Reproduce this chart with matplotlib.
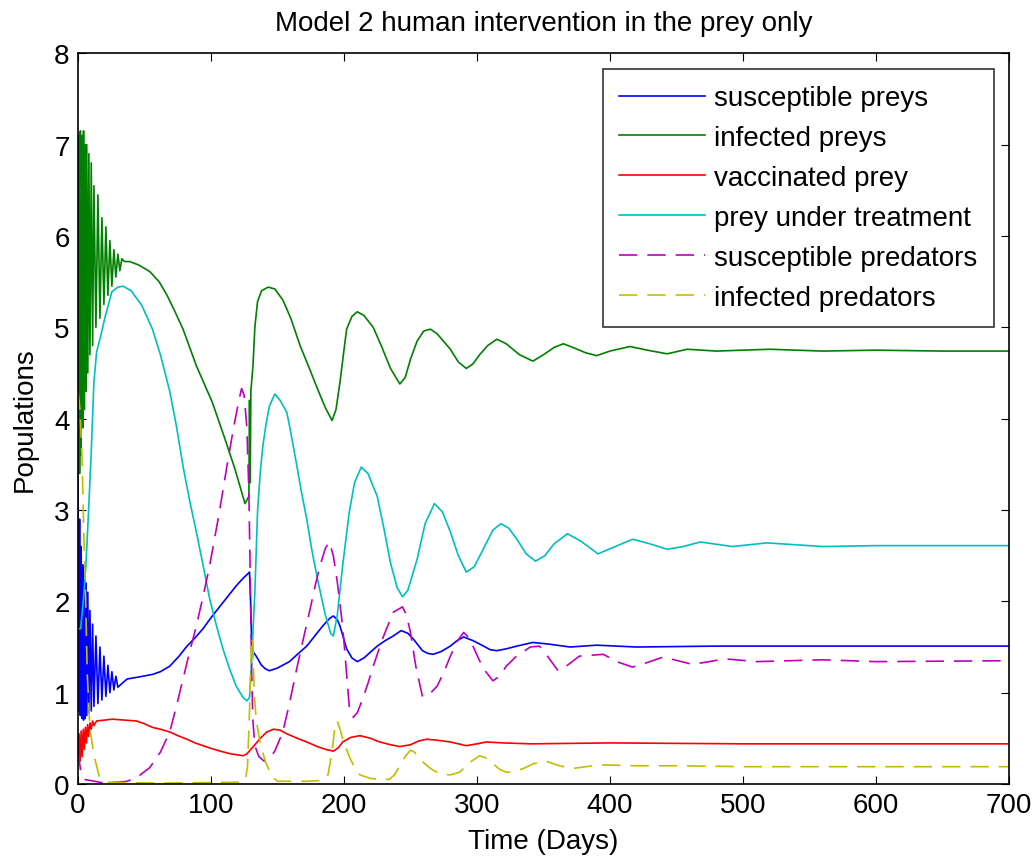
import numpy as np
import matplotlib
matplotlib.use("Agg")
import matplotlib.pyplot as plt

# values (time in days, population)
t_sus_prey = [0, 0.6, 1.2, 1.8, 2.4, 3.0, 3.6, 4.2, 4.8, 5.4, 6.0, 6.6, 7.4, 8.2, 9, 10, 11, 12, 13.5, 15,
              16.5, 18, 19.5, 21, 22.5, 24, 25.5, 27, 28.5, 30, 33, 37, 45, 56, 62, 69,
              76, 82, 88, 94, 100, 107, 113, 119, 124, 129, 129.8, 130.5, 131.5, 134, 138, 141, 144, 150,
              159, 165, 172, 178, 184, 189, 192, 195, 197, 202, 206, 210, 215, 225, 231, 237, 243, 248,
              252, 259, 263, 267, 273, 280, 285, 290, 297, 305, 310, 315, 322, 330, 342, 355, 370, 390,
              420, 480, 560, 640, 700]
sus_prey = [3.3, 0.8, 2.9, 0.75, 2.6, 0.72, 2.4, 0.7, 2.3, 0.72, 2.2, 0.75, 2.1, 0.78, 1.9, 0.8, 1.75,
            0.85, 1.62, 0.88, 1.5, 0.92, 1.4, 0.96, 1.3, 1.0, 1.23, 1.03, 1.18, 1.06, 1.1, 1.15,
            1.17, 1.2, 1.23, 1.29, 1.4, 1.51, 1.6, 1.7, 1.82, 1.95, 2.06, 2.17, 2.25, 2.32, 2.0, 1.6,
            1.45, 1.4, 1.3, 1.26, 1.24, 1.27, 1.34, 1.42, 1.51, 1.62, 1.73, 1.81, 1.84, 1.8, 1.73, 1.48,
            1.38, 1.34, 1.38, 1.51, 1.57, 1.62, 1.68, 1.65, 1.59, 1.46, 1.43, 1.42, 1.45, 1.51, 1.57,
            1.61, 1.57, 1.51, 1.47, 1.46, 1.48, 1.51, 1.55, 1.53, 1.5, 1.52, 1.5, 1.51, 1.51, 1.51, 1.51]

t_inf_prey = [0, 0.6, 1.2, 1.8, 2.4, 3.0, 3.6, 4.2, 4.8, 5.4, 6.0, 6.6, 7.4, 8.2, 9, 10, 11, 12, 13.5,
              15, 16.5, 18, 19.5, 21, 22.5, 24, 25.5, 27, 28.5, 30, 31.5, 33, 35, 39, 46, 54, 61,
              67, 73, 79, 89, 101, 110, 118, 122, 125.6, 128.5, 129, 129.5, 130, 131.6, 133, 135, 138,
              143, 148, 154, 160, 167, 174, 180, 186, 191, 194, 197, 200, 202, 206, 210, 215, 222, 228,
              235, 242, 246, 250, 255, 260, 265, 270, 280, 286, 292, 297, 302, 308, 315, 322, 332, 342,
              350, 358, 365, 372, 382, 390, 400, 415, 428, 443, 458, 480, 520, 560, 600, 650, 700]
inf_prey = [3.3, 7.1, 3.4, 7.15, 3.6, 7.1, 3.9, 7.15, 4.1, 7.0, 4.3, 7.0, 4.5, 6.9, 4.7, 6.8, 4.8, 6.55,
            5.0, 6.45, 5.1, 6.2, 5.25, 6.1, 5.35, 5.95, 5.45, 5.85, 5.55, 5.8, 5.62, 5.75, 5.72,
            5.72, 5.68, 5.61, 5.5, 5.35, 5.17, 4.98, 4.58, 4.18, 3.8, 3.45, 3.25, 3.07, 3.15, 4.2, 3.3,
            4.3, 4.58, 5.0, 5.28, 5.4, 5.44, 5.42, 5.3, 5.1, 4.8, 4.55, 4.33, 4.12, 3.98, 4.1, 4.4, 4.75,
            4.98, 5.12, 5.17, 5.13, 5.0, 4.8, 4.55, 4.38, 4.45, 4.65, 4.85, 4.96, 4.98, 4.93, 4.76, 4.62,
            4.55, 4.6, 4.7, 4.8, 4.87, 4.82, 4.7, 4.63, 4.7, 4.78, 4.82, 4.78, 4.72, 4.69, 4.74, 4.79,
            4.75, 4.71, 4.76, 4.74, 4.76, 4.74, 4.75, 4.74, 4.74]

t_vac_prey = [0, 0.8, 1.6, 2.4, 3.2, 4, 4.8, 5.6, 6.4, 7.2, 8, 9, 10, 11, 12, 14, 20, 26, 35, 44, 50, 56,
              62, 69, 75, 82, 88, 94,
              100, 107, 115, 124, 127, 130, 133, 137, 142, 147, 152, 157, 165, 172, 180, 186, 192, 196,
              199, 205, 212, 220, 227, 235, 242, 250, 256, 262, 270, 280, 292, 300, 307, 320, 340, 400,
              500, 600, 700]
vac_prey = [0.3, 0.55, 0.25, 0.58, 0.3, 0.6, 0.38, 0.62, 0.45, 0.65, 0.52, 0.67, 0.6, 0.69, 0.64, 0.69,
            0.7, 0.71, 0.7, 0.69, 0.66, 0.62,
            0.6, 0.57, 0.53, 0.49, 0.45, 0.42, 0.39, 0.36, 0.33, 0.31, 0.33, 0.38, 0.43, 0.5, 0.57, 0.6,
            0.59, 0.55, 0.5, 0.46, 0.41, 0.38, 0.36, 0.4, 0.46, 0.51, 0.53, 0.5, 0.46, 0.43, 0.41, 0.43,
            0.47, 0.49, 0.48, 0.46, 0.42, 0.44, 0.46, 0.45, 0.44, 0.45, 0.44, 0.44, 0.44]

t_treat_prey = [0, 2, 4, 6, 8, 10, 12, 14, 17, 20, 25.5, 30, 34, 40, 48, 56, 62, 69, 74, 79, 84, 89, 94,
                99, 104, 109, 114, 119, 124, 127, 129, 130.5, 132, 133, 135, 137, 139, 141.5, 144, 148,
                152, 157, 160, 164, 168, 172, 176, 180, 186, 190, 192, 195, 199, 204, 208, 213, 218, 225,
                230, 235, 240, 244, 248, 255, 261, 268, 274, 280, 286, 292, 298, 305, 312, 318, 324, 330,
                337, 344, 351, 358, 368, 378, 391, 404, 417, 430, 443, 455, 468, 492, 518, 560, 600, 700]
treat_prey = [1.7, 1.7, 2.0, 2.4, 3.0, 3.64, 4.4, 4.73, 4.9, 5.09, 5.39, 5.44, 5.45, 5.4, 5.24, 4.98,
              4.7, 4.3, 3.92, 3.48, 3.1, 2.76, 2.4, 2.03, 1.74, 1.48, 1.26, 1.07, 0.95, 0.91, 0.95, 1.3,
              1.8, 2.1, 2.98, 3.4, 3.7, 3.95, 4.14, 4.27, 4.2, 4.07, 3.85, 3.53, 3.2, 2.9, 2.55, 2.25,
              1.85, 1.65, 1.62, 1.85, 2.39, 2.98, 3.3, 3.47, 3.4, 3.15, 2.8, 2.42, 2.15, 2.05, 2.12, 2.46,
              2.85, 3.07, 2.98, 2.76, 2.5, 2.32, 2.38, 2.58, 2.78, 2.85, 2.8, 2.68, 2.52, 2.44, 2.5, 2.63,
              2.74, 2.66, 2.52, 2.6, 2.68, 2.63, 2.57, 2.6, 2.65, 2.6, 2.64, 2.6, 2.61, 2.61]

t_sus_pred = [0, 2, 5, 20, 37, 45, 54, 62, 69, 74, 79, 84, 89, 94, 99, 106, 112, 117, 121, 123, 125, 127,
              128.5, 129.5, 130.5, 131.5, 133, 136, 140, 144, 148, 154, 159, 164, 169, 174, 178, 182, 186,
              189, 192, 195, 198, 200, 202, 204, 207, 210, 214, 218, 222, 229, 237, 244, 247, 250, 254,
              259, 264, 270, 275, 280, 285, 290, 294, 297, 301, 305, 312, 317, 322, 329, 335, 340, 347,
              352, 361, 368, 377, 395, 405, 417, 428, 440, 462, 487, 510, 560, 600, 700]
sus_pred = [0.35, 0.15, 0.05, 0.01, 0.03, 0.08, 0.18, 0.35, 0.57, 0.85, 1.15, 1.45, 1.73, 2.05, 2.39,
            2.95, 3.48, 3.9, 4.2, 4.33, 4.25, 3.9, 3.2, 2.3, 1.3, 0.7, 0.42, 0.3, 0.25, 0.28, 0.36, 0.57,
            0.88, 1.23, 1.56, 1.88, 2.15, 2.39, 2.58, 2.65, 2.5, 2.21, 1.85, 1.56, 1.2, 0.85, 0.73, 0.78,
            0.93, 1.1, 1.29, 1.59, 1.88, 1.94, 1.85, 1.66, 1.29, 0.96, 0.98, 1.07, 1.22, 1.4, 1.56, 1.66,
            1.6, 1.51, 1.38, 1.26, 1.13, 1.18, 1.29, 1.39, 1.45, 1.5, 1.51, 1.42, 1.24, 1.3, 1.4, 1.42,
            1.34, 1.28, 1.33, 1.39, 1.31, 1.37, 1.34, 1.36, 1.34, 1.35]

t_inf_pred = [0, 1.5, 3, 4.5, 5.5, 7, 9, 12, 16, 22, 60, 124, 126, 127.5, 129, 130.5, 131.5, 132.5, 134,
              137, 141, 146, 150, 172, 185, 188, 191, 193, 195, 197, 200, 204, 208, 212, 220, 234, 238,
              242, 246, 250, 253, 257, 265, 272, 280, 287, 295, 302, 306, 310, 317, 322, 327, 335, 342,
              352, 362, 372, 382, 392, 420, 450, 500, 600, 700]
inf_pred = [4.3, 4.1, 3.6, 2.7, 2.2, 1.2, 0.6, 0.32, 0.08, 0.02, 0.01, 0.02, 0.05, 0.2, 0.8, 1.6, 1.55,
            1.0, 0.7, 0.45, 0.24, 0.08, 0.03, 0.03, 0.04, 0.1, 0.35, 0.6, 0.69, 0.6, 0.45, 0.3, 0.18,
            0.1, 0.06, 0.05, 0.1, 0.2, 0.3, 0.37, 0.35, 0.27, 0.17, 0.11, 0.1, 0.13, 0.24, 0.31, 0.29,
            0.25, 0.16, 0.13, 0.13, 0.17, 0.22, 0.25, 0.2, 0.17, 0.19, 0.21, 0.2, 0.2, 0.19, 0.19, 0.19]

series = [
    (t_sus_prey, sus_prey, "susceptible preys", (0, 0, 1), "-"),
    (t_inf_prey, inf_prey, "infected preys", (0, 0.5, 0), "-"),
    (t_vac_prey, vac_prey, "vaccinated prey", (1, 0, 0), "-"),
    (t_treat_prey, treat_prey, "prey under treatment", (0, 0.75, 0.75), "-"),
    (t_sus_pred, sus_pred, "susceptible predators", (0.75, 0, 0.75), "--"),
    (t_inf_pred, inf_pred, "infected predators", (0.75, 0.75, 0), "--"),
]

plt.rcParams["font.family"] = ["Liberation Sans", "DejaVu Sans"]
fs = 20

fig = plt.figure(figsize=(10.34, 8.62), dpi=100)
ax = fig.add_axes([0.0754, 0.0893, 0.9004, 0.8477])

for t, y, label, color, ls in series:
    line, = ax.plot(t, y, color=color, linestyle=ls, linewidth=1.2, label=label)
    if ls == "--":
        line.set_dashes((11, 6))

ax.set_xlim(0, 700)
ax.set_ylim(0, 8)
ax.set_xticks(np.arange(0, 701, 100))
ax.set_yticks(np.arange(0, 9, 1))
ax.tick_params(direction="in", length=6, labelsize=fs, top=True, right=True, pad=6)
for s in ax.spines.values():
    s.set_linewidth(1.2)

ax.set_title("Model 2 human intervention in the prey only", fontsize=fs, pad=17)
ax.set_xlabel("Time (Days)", fontsize=fs, labelpad=7)
ax.set_ylabel("Populations", fontsize=fs, labelpad=12)

leg = ax.legend(loc="upper right", fontsize=fs, frameon=True, fancybox=False, edgecolor="black",
                handlelength=3.1, labelspacing=0.5, borderaxespad=0.55, borderpad=0.6,
                handletextpad=0.3)
leg.get_frame().set_linewidth(1.2)

fig.savefig("out.png", dpi=100)
